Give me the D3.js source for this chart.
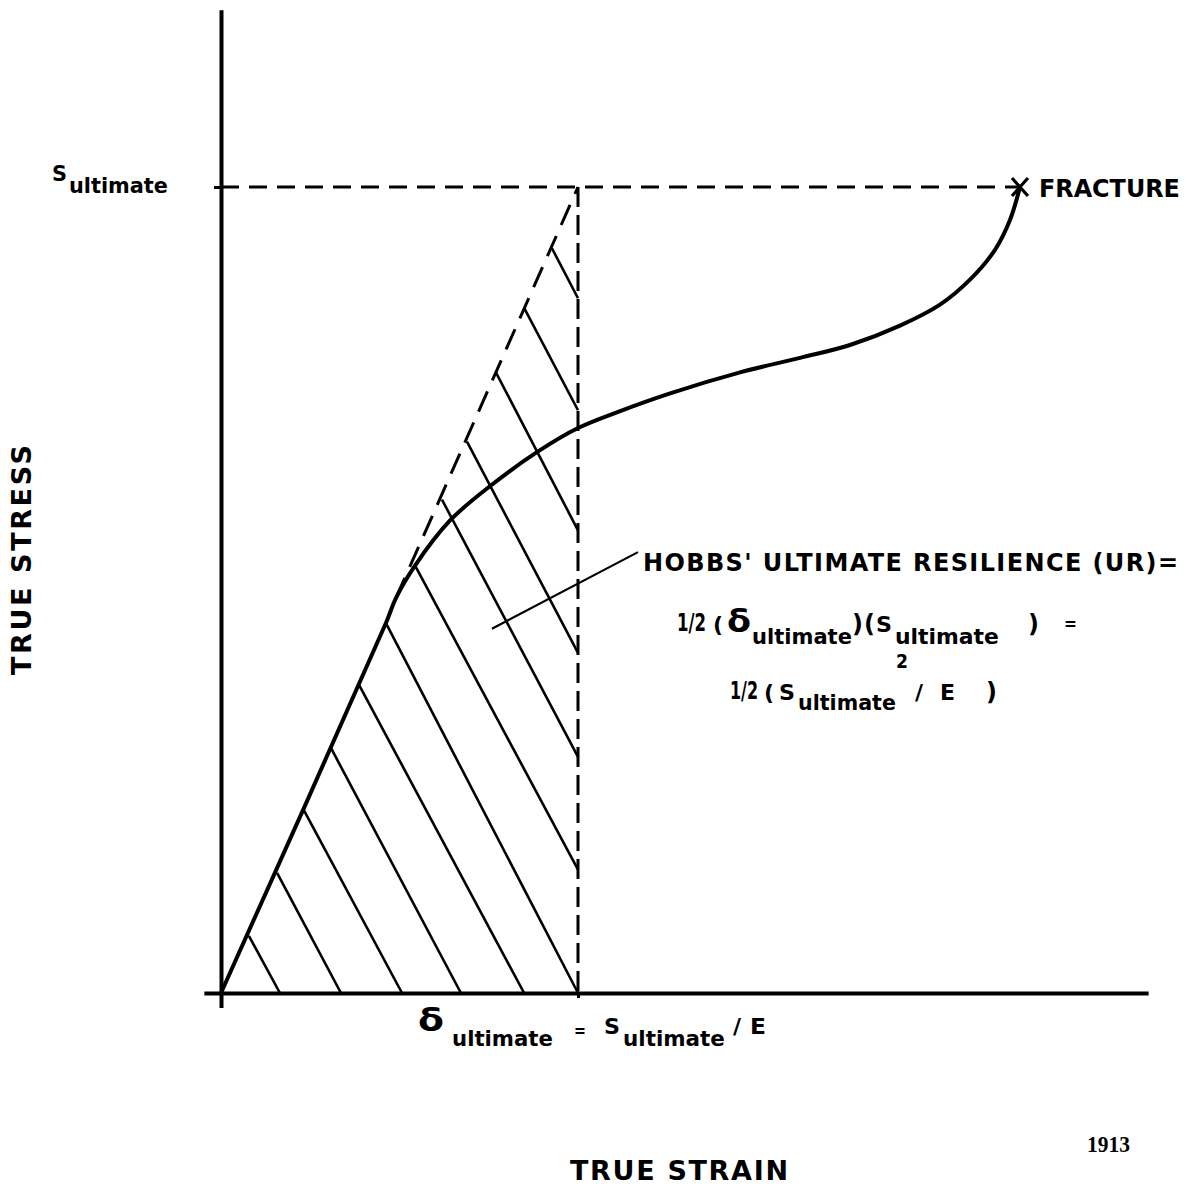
<!DOCTYPE html>
<html>
<head>
<meta charset="utf-8">
<script src="https://cdn.jsdelivr.net/npm/d3@7"></script>
<style>
body{margin:0;background:#fff}
svg{display:block}
text{font-family:"DejaVu Sans",sans-serif;font-weight:bold;fill:#000}
</style>
</head>
<body>
<div id="chart"></div>
<script>
// strain in units of delta_ultimate, stress in units of S_ultimate (so E = 1)
var curveStrain = [0, 0.462, 0.490, 0.543, 0.641, 0.754, 0.885, 1.0, 1.118, 1.258, 1.454, 1.622, 1.762, 1.902, 2.014, 2.098, 2.168, 2.210, 2.238]
var curveStress = [0, 0.459, 0.490, 0.530, 0.586, 0.629, 0.671, 0.701, 0.722, 0.744, 0.770, 0.788, 0.804, 0.828, 0.854, 0.885, 0.922, 0.959, 1.0]

// dashed part of the elastic line, up to S_ultimate
var elasticStrain = [0.49, 1.0]
var elasticStress = [0.49, 1.0]

// hatch lines of the resilience triangle
var hatchFromStrain = [0.078, 0.157, 0.232, 0.308, 0.387, 0.462, 0.543, 0.619, 0.689, 0.770, 0.849, 0.927]
var hatchFromStress = [0.071, 0.149, 0.227, 0.304, 0.382, 0.459, 0.531, 0.612, 0.684, 0.770, 0.850, 0.924]
var hatchToStrain = [0.165, 0.336, 0.507, 0.672, 0.849, 1.0, 1.0, 1.0, 1.0, 1.0, 1.0, 1.0]
var hatchToStress = [0, 0, 0, 0, 0, 0, 0.153, 0.293, 0.422, 0.574, 0.723, 0.862]

var fracture = [2.238, 1.0]
var leaderStrain = [0.759, 1.168]
var leaderStress = [0.452, 0.547]

var xExtent = [-0.048, 2.597]
var yExtent = [-0.018, 1.22]

var width = 1191
var height = 1187

var x = d3.scaleLinear().domain([0, 1]).range([221, 578])
var y = d3.scaleLinear().domain([0, 1]).range([993, 187])

var svg = d3.select("#chart")
	.append("svg")
	.attr("width", width)
	.attr("height", height)

// axes
var xAxisScale = x.copy().domain(xExtent).range(xExtent.map(x))
var yAxisScale = y.copy().domain(yExtent).range(yExtent.map(y))

var xAxis = d3.axisBottom(xAxisScale).tickValues([1]).tickFormat("").tickSize(5).tickSizeOuter(0)
var yAxis = d3.axisLeft(yAxisScale).tickValues([1]).tickFormat("").tickSize(7).tickSizeOuter(0)

var xG = svg.append("g").attr("transform", "translate(0," + y(0) + ")").call(xAxis)
var yG = svg.append("g").attr("transform", "translate(" + x(0) + ",0)").call(yAxis)
xG.select(".domain").attr("stroke", "#000").attr("stroke-width", 4)
yG.select(".domain").attr("stroke", "#000").attr("stroke-width", 4)
xG.selectAll(".tick line").attr("stroke", "#000").attr("stroke-width", 3)
yG.selectAll(".tick line").attr("stroke", "#000").attr("stroke-width", 3)

// dashed guides
svg.append("line")
	.attr("x1", x(0)).attr("y1", y(fracture[1]))
	.attr("x2", x(fracture[0])).attr("y2", y(fracture[1]))
	.attr("stroke", "#000").attr("stroke-width", 3)
	.attr("stroke-dasharray", "18,10")

svg.append("line")
	.attr("x1", x(1)).attr("y1", y(1))
	.attr("x2", x(1)).attr("y2", y(0))
	.attr("stroke", "#000").attr("stroke-width", 3)
	.attr("stroke-dasharray", "20,8")

svg.append("line")
	.attr("x1", x(elasticStrain[0])).attr("y1", y(elasticStress[0]))
	.attr("x2", x(elasticStrain[1])).attr("y2", y(elasticStress[1]))
	.attr("stroke", "#000").attr("stroke-width", 3)
	.attr("stroke-dasharray", "22,12")

// hatching
svg.selectAll(".hatch")
	.data(hatchFromStrain)
	.enter()
	.append("line")
	.attr("class", "hatch")
	.attr("x1", function(d, i){return x(d)})
	.attr("y1", function(d, i){return y(hatchFromStress[i])})
	.attr("x2", function(d, i){return x(hatchToStrain[i])})
	.attr("y2", function(d, i){return y(hatchToStress[i])})
	.attr("stroke", "#000")
	.attr("stroke-width", 2.6)

// leader
svg.append("line")
	.attr("x1", x(leaderStrain[0])).attr("y1", y(leaderStress[0]))
	.attr("x2", x(leaderStrain[1])).attr("y2", y(leaderStress[1]))
	.attr("stroke", "#000").attr("stroke-width", 2.2)

// stress-strain curve
var line = d3.line()
	.x(function(d, i){return x(d)})
	.y(function(d, i){return y(curveStress[i])})
	.curve(d3.curveCatmullRom.alpha(0.5))

svg.append("path")
	.attr("d", line(curveStrain))
	.attr("fill", "none")
	.attr("stroke", "#000")
	.attr("stroke-width", 4)
	.attr("stroke-linecap", "round")

// fracture cross
var fx = x(fracture[0]), fy = y(fracture[1])
svg.append("path")
	.attr("d", "M" + (fx - 8) + "," + (fy - 9) + "L" + (fx + 8) + "," + (fy + 9) +
		"M" + (fx + 8) + "," + (fy - 9) + "L" + (fx - 8) + "," + (fy + 9))
	.attr("stroke", "#000").attr("stroke-width", 3.2)

// text pieces: string, x, baseline, font size, width
// glyph fitting is done with a horizontal scale so the boxes stay true
function put(t, px, py, size, w, fit){
	var el = svg.append("text").text(t)
		.style("font-size", size + "px")
	if(w && fit == "spacing"){
		el.attr("x", px).attr("y", py)
			.attr("textLength", w).attr("lengthAdjust", "spacing")
	}else if(w){
		var nat = el.node().getComputedTextLength()
		el.attr("transform", "translate(" + px + "," + py + ") scale(" + (w / nat) + ",1)")
	}else{
		el.attr("x", px).attr("y", py)
	}
	return el
}

put("S", 52, 181, 21, 15)
put("ultimate", 69, 193, 21, 99)

put("FRACTURE", 1039, 197, 25, 141)

put("HOBBS'  ULTIMATE  RESILIENCE  (UR)=", 643, 571, 24, 535, "spacing")

put("1/2", 677, 631, 25, 29)
put("(", 713, 632, 22)
put("\u03b4", 727, 632, 32, 24)
put("ultimate", 752, 644, 21, 100)
put(")", 852, 632, 24)
put("(", 864, 632, 24)
put("S", 876, 632, 22, 16)
put("ultimate", 895, 644, 21, 104)
put(")", 1028, 632, 24)
put("=", 1064, 630, 18, 13)

put("1/2", 730, 699, 25, 28)
put("(", 764, 700, 22)
put("S", 779, 700, 22, 16)
put("ultimate", 798, 710, 21, 98)
put("2", 896, 668, 20, 12)
put("/", 915, 700, 22)
put("E", 940, 700, 22, 15)
put(")", 986, 700, 24)

put("\u03b4", 418, 1031, 32, 26)
put("ultimate", 452, 1046, 21, 101)
put("=", 574, 1037, 18, 12)
put("S", 604, 1034, 22, 16)
put("ultimate", 623, 1046, 21, 102)
put("/", 733, 1034, 22)
put("E", 750, 1034, 22, 16)

put("TRUE  STRAIN", 570, 1180, 27, 218, "spacing")

svg.append("text")
	.text("TRUE  STRESS")
	.attr("transform", "translate(31,560) rotate(-90)")
	.attr("text-anchor", "middle")
	.attr("textLength", 230)
	.attr("lengthAdjust", "spacing")
	.style("font-size", "27px")

var yr = svg.append("text")
	.text("1913")
	.style("font-family", "'Liberation Serif',serif")
	.style("font-weight", "bold")
	.style("font-size", "24px")
yr.attr("transform", "translate(1087,1152) scale(" + (43 / yr.node().getComputedTextLength()) + ",1)")
</script>
</body>
</html>
